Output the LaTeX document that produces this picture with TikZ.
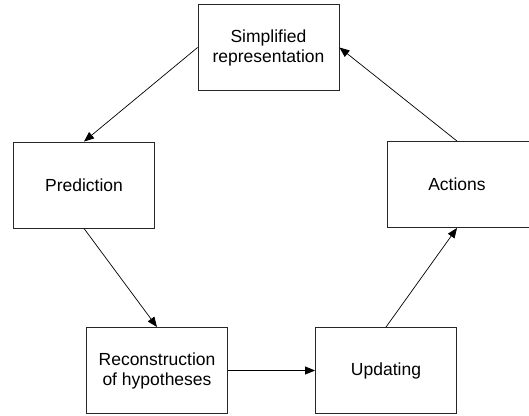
\documentclass[tikz,border=0pt]{standalone}
\usepackage{fontspec}
\setmainfont{Liberation Sans}
\usetikzlibrary{arrows.meta}
\begin{document}
\begin{tikzpicture}[x=1pt,y=-1pt,
  box/.style={draw=black!85, line width=0.9pt, minimum width=141pt, minimum height=86pt, inner sep=0pt, align=center, font=\fontsize{17.5}{20}\selectfont},
  conn/.style={line width=0.7pt, -{Triangle[length=10pt,width=8pt]}}]
\useasboundingbox (0,0) rectangle (529,415);
\node[box] (simp) at (268.5,47.5) {Simplified\\representation};
\node[box] (pred) at (84,185) {Prediction};
\node[box, minimum width=149pt] (act) at (461.5,184.5) {};
\node[font=\fontsize{17.5}{20}\selectfont] (acttext) at (457,184.5) {Actions};
\node[box] (rec) at (157,370.5) {Reconstruction\\of hypotheses};
\node[box] (upd) at (386,370.5) {Updating};
\draw[conn] (simp.west) -- (pred.north);
\draw[conn] (pred.south) -- (rec.north);
\draw[conn] (rec.east) -- (upd.west);
\draw[conn] (upd.north) -- ([xshift=-4.5pt]act.south);
\draw[conn] ([xshift=-4.5pt]act.north) -- (simp.east);
\end{tikzpicture}
\end{document}
